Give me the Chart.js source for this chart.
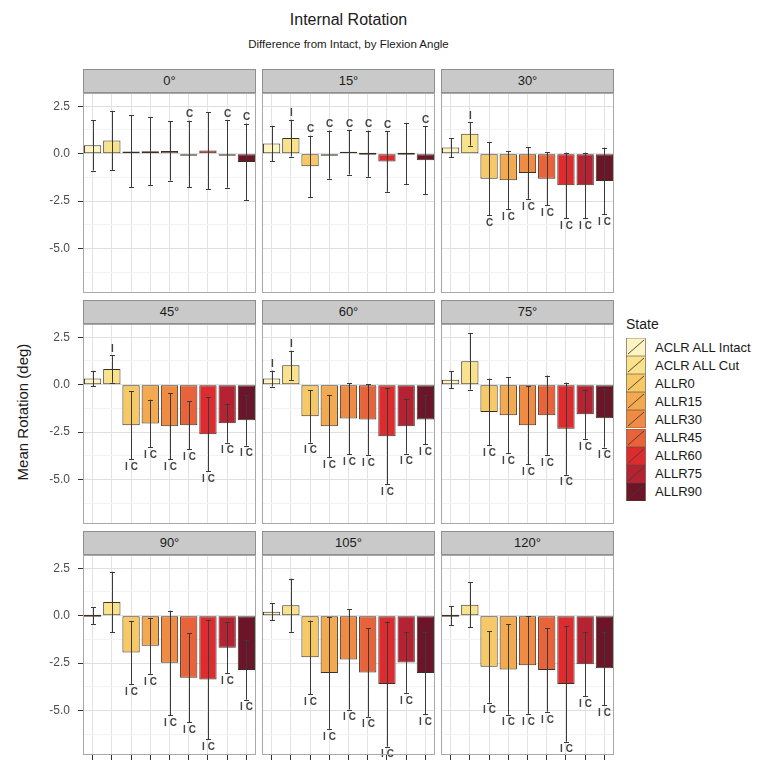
<!DOCTYPE html>
<html>
<head>
<meta charset="utf-8">
<script src="https://cdn.jsdelivr.net/npm/chart.js@4.4.1/dist/chart.umd.min.js"></script>
<style>
  body { margin: 0; background: #fff; font-family: "Liberation Sans", Arial, sans-serif; }
  #wrap { position: relative; width: 779px; height: 761px; overflow: hidden; }
  .title { position: absolute; left: 83px; width: 531px; text-align: center; color: #1a1a1a; }
  .strip { position: absolute; height: 24px; background: #c9c9c9; border: 1px solid #8e8e8e; box-sizing: border-box;
           text-align: center; font-size: 13px; line-height: 22px; color: #1a1a1a; }
  .panel { position: absolute; }
  #ytitle { position: absolute; left: 22px; top: 412px; transform: translate(-50%, -50%) rotate(-90deg);
            font-size: 15px; color: #1a1a1a; white-space: nowrap; }
  #legend { position: absolute; left: 626px; top: 316px; color: #1a1a1a; }
  #legend .lt { font-size: 14px; margin-bottom: 6px; }
  #legend .row { display: flex; align-items: center; height: 18.1px; }
  #legend .row span { margin-left: 9px; font-size: 13px; white-space: nowrap; }
</style>
</head>
<body>
<div id="wrap">
  <div class="title" style="top:11px;font-size:16px;">Internal Rotation</div>
  <div class="title" style="top:38px;font-size:11.5px;">Difference from Intact, by Flexion Angle</div>
  <div id="ytitle">Mean Rotation (deg)</div>
  <div id="legend"><div class="lt">State</div></div>
</div>

<script>
// categories
const states = ['ACLR ALL Intact', 'ACLR ALL Cut', 'ALLR0', 'ALLR15', 'ALLR30', 'ALLR45', 'ALLR60', 'ALLR75', 'ALLR90'];
const angles = ['0°', '15°', '30°', '45°', '60°', '75°', '90°', '105°', '120°'];
const stateColors = ['#fcf4c2', '#f8e28c', '#f6c866', '#f3a950', '#ef8b42', '#e8633a', '#dc2c30', '#b52232', '#6c1428'];

// mean rotation (deg) per flexion angle
const mean0   = [0.44, 0.70, 0.12, 0.13, 0.14, -0.02, 0.17, -0.02, -0.44];
const mean15  = [0.53, 0.82, -0.67, -0.05, 0.08, 0.00, -0.41, 0.00, -0.35];
const mean30  = [0.32, 1.05, -1.32, -1.40, -1.02, -1.32, -1.67, -1.67, -1.44];
const mean45  = [0.32, 0.82, -2.14, -2.05, -2.19, -2.14, -2.61, -2.03, -1.88];
const mean60  = [0.32, 1.02, -1.67, -2.19, -1.79, -1.84, -2.72, -2.19, -1.84];
const mean75  = [0.26, 1.23, -1.44, -1.61, -2.14, -1.61, -2.32, -1.56, -1.77];
const mean90  = [0.00, 0.72, -1.94, -1.59, -2.49, -3.28, -3.37, -1.69, -2.87];
const mean105 = [0.21, 0.55, -2.20, -3.02, -2.31, -3.00, -3.61, -2.47, -3.02];
const mean120 = [0.00, 0.57, -2.70, -2.84, -2.61, -2.87, -3.61, -2.56, -2.78];

// error bar half widths (deg)
const sd0   = [1.33, 1.56, 1.90, 1.78, 1.56, 1.76, 2.03, 1.77, 2.03];
const sd15  = [0.94, 0.97, 1.62, 1.27, 1.18, 1.22, 1.60, 1.62, 1.79];
const sd30  = [0.50, 0.62, 1.93, 1.53, 1.36, 1.40, 1.73, 1.73, 1.76];
const sd45  = [0.41, 0.72, 1.80, 1.26, 1.75, 1.27, 1.95, 1.03, 1.34];
const sd60  = [0.42, 0.77, 1.39, 1.65, 1.88, 1.86, 2.54, 1.45, 1.30];
const sd75  = [0.46, 1.49, 1.76, 1.99, 2.06, 2.09, 2.43, 1.30, 1.55];
const sd90  = [0.45, 1.60, 1.66, 1.48, 2.75, 2.34, 3.15, 1.35, 1.56];
const sd105 = [0.44, 1.40, 1.94, 2.95, 2.64, 2.33, 3.30, 1.60, 2.18];
const sd120 = [0.51, 1.19, 1.89, 2.38, 2.57, 2.20, 3.04, 1.70, 1.94];

// significance marks (I = vs intact, C = vs cut)
const sig0   = ['', '', '', '', '', 'C', '', 'C', 'C'];
const sig15  = ['', 'I', 'C', 'C', 'C', 'C', 'C', '', 'C'];
const sig30  = ['', 'I', 'C', 'I C', 'I C', 'I C', 'I C', 'I C', 'I C'];
const sig45  = ['', 'I', 'I C', 'I C', 'I C', 'I C', 'I C', 'I C', 'I C'];
const sig60  = ['I', 'I', 'I C', 'I C', 'I C', 'I C', 'I C', 'I C', 'I C'];
const sig75  = ['', '', 'I C', 'I C', 'I C', 'I C', 'I C', 'I C', 'I C'];
const sig90  = ['', '', 'I C', 'I C', 'I C', 'I C', 'I C', 'I C', 'I C'];
const sig105 = ['', '', 'I C', 'I C', 'I C', 'I C', 'I C', 'I C', 'I C'];
const sig120 = ['', '', 'I C', 'I C', 'I C', 'I C', 'I C', 'I C', 'I C'];

// y axis
const yTicks = [-6.25, -5, -3.75, -2.5, -1.25, 0, 1.25, 2.5];
const yMin = -7.35;
const yMax = 3.2;

const means = [mean0, mean15, mean30, mean45, mean60, mean75, mean90, mean105, mean120];
const sds = [sd0, sd15, sd30, sd45, sd60, sd75, sd90, sd105, sd120];
const sigs = [sig0, sig15, sig30, sig45, sig60, sig75, sig90, sig105, sig120];

// layout
const colLeft = [83, 262, 441];
const stripTop = [69, 300, 531];
const panelW = 173, panelH = 200, stripH = 24;
const AX = 50, BH = 12;

const isMajor = v => Math.abs(v / 2.5 - Math.round(v / 2.5)) < 1e-6;

// error bars + significance letters
const errorBars = {
  id: 'errorBars',
  afterDatasetsDraw(chart, args, opts) {
    const ctx = chart.ctx;
    const y = chart.scales.y;
    const meta = chart.getDatasetMeta(0);
    const data = chart.data.datasets[0].data;
    ctx.save();
    ctx.strokeStyle = '#3a3a3a';
    ctx.lineWidth = 1;
    data.forEach((m, i) => {
      const xc = Math.round(meta.data[i].x) + 0.5;
      const hi = y.getPixelForValue(m + opts.sd[i]);
      const lo = y.getPixelForValue(m - opts.sd[i]);
      ctx.beginPath();
      ctx.moveTo(xc, hi); ctx.lineTo(xc, lo);
      ctx.moveTo(xc - 2.5, Math.round(hi) + 0.5); ctx.lineTo(xc + 2.5, Math.round(hi) + 0.5);
      ctx.moveTo(xc - 2.5, Math.round(lo) + 0.5); ctx.lineTo(xc + 2.5, Math.round(lo) + 0.5);
      ctx.stroke();

      const s = opts.sig[i];
      if (!s) return;
      ctx.fillStyle = '#444';
      ctx.font = 'bold 10px "Liberation Sans", Arial, sans-serif';
      ctx.textAlign = 'center';
      if (m > -1) {
        ctx.textBaseline = 'bottom';
        ctx.fillText(s, xc, hi - 1);
      } else {
        ctx.textBaseline = 'top';
        ctx.fillText(s, xc, lo + 3);
      }
    });
    ctx.restore();
  }
};

const panelBorder = {
  id: 'panelBorder',
  afterDraw(chart) {
    const { ctx, chartArea: a } = chart;
    ctx.save();
    ctx.strokeStyle = '#a8a8a8';
    ctx.lineWidth = 1;
    ctx.strokeRect(a.left + 0.5, a.top + 0.5, a.width - 1, a.height - 1);
    ctx.restore();
  }
};

const wrap = document.getElementById('wrap');

angles.forEach((angle, k) => {
  const r = Math.floor(k / 3), c = k % 3;
  const isLeft = c === 0, isBottom = r === 2;

  const strip = document.createElement('div');
  strip.className = 'strip';
  strip.style.left = colLeft[c] + 'px';
  strip.style.top = stripTop[r] + 'px';
  strip.style.width = panelW + 'px';
  strip.textContent = angle;
  wrap.appendChild(strip);

  const canvas = document.createElement('canvas');
  canvas.className = 'panel';
  canvas.width = panelW + AX;
  canvas.height = panelH + BH;
  canvas.style.left = (colLeft[c] - AX) + 'px';
  canvas.style.top = (stripTop[r] + stripH) + 'px';
  wrap.appendChild(canvas);

  new Chart(canvas.getContext('2d'), {
    type: 'bar',
    data: {
      labels: states,
      datasets: [{
        data: means[k],
        backgroundColor: stateColors,
        borderColor: '#3b3025',
        borderWidth: 1,
        borderSkipped: false,
        minBarLength: 2,
        barPercentage: 0.9,
        categoryPercentage: 1
      }]
    },
    options: {
      responsive: false,
      animation: false,
      layout: { padding: 0 },
      plugins: {
        legend: { display: false },
        tooltip: { enabled: false },
        errorBars: { sd: sds[k], sig: sigs[k] }
      },
      scales: {
        x: {
          grid: { offset: false, color: '#e3e3e3', drawTicks: isBottom, tickLength: 5, tickColor: '#333' },
          ticks: { display: false },
          border: { display: false },
          afterFit: s => { s.height = BH; s.paddingLeft = 0; s.paddingRight = 0; }
        },
        y: {
          min: yMin,
          max: yMax,
          afterBuildTicks: s => { s.ticks = yTicks.map(v => ({ value: v })); },
          ticks: {
            display: isLeft,
            padding: 8,
            color: '#4d4d4d',
            font: { size: 12, family: '"Liberation Sans", Arial, sans-serif' },
            callback: v => isMajor(v) ? v.toFixed(1) : ''
          },
          grid: {
            color: ctx => isMajor(ctx.tick.value) ? '#e0e0e0' : '#f2f2f2',
            drawTicks: isLeft,
            tickLength: 5,
            tickColor: ctx => isMajor(ctx.tick.value) ? '#333' : 'rgba(0,0,0,0)'
          },
          border: { display: false },
          afterFit: s => { s.width = AX; s.paddingTop = 0; s.paddingBottom = 0; }
        }
      }
    },
    plugins: [errorBars, panelBorder]
  });
});

// legend
const legend = document.getElementById('legend');
states.forEach((name, i) => {
  const row = document.createElement('div');
  row.className = 'row';
  row.innerHTML =
    `<svg width="20" height="18" style="display:block">
       <rect x="0.5" y="0" width="19" height="18" fill="${stateColors[i]}" stroke="#5a4a3a" stroke-width="0.6"/>
       <line x1="2" y1="16" x2="18" y2="2" stroke="#4a3a2a" stroke-width="0.9"/>
     </svg><span>${name}</span>`;
  legend.appendChild(row);
});
</script>
</body>
</html>
